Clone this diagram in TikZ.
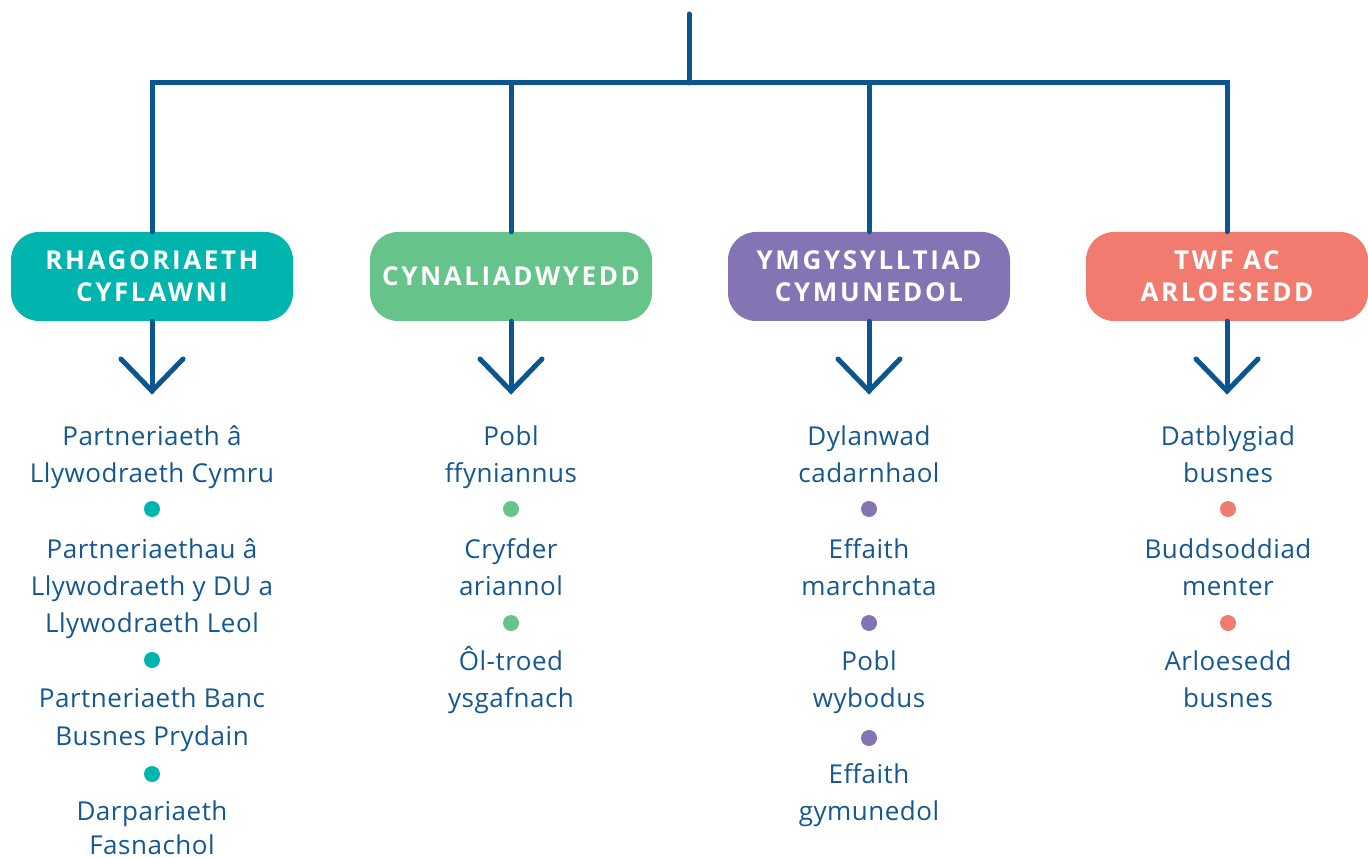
\documentclass[tikz,border=0pt]{standalone}
\usepackage{fontspec}
\setmainfont{Open Sans}
\usetikzlibrary{calc}
\definecolor{navy}{HTML}{0B5591}
\definecolor{txt}{HTML}{15588F}
\definecolor{cteal}{HTML}{00B5AD}
\definecolor{cgreen}{HTML}{66C38A}
\definecolor{cpurple}{HTML}{8574B4}
\definecolor{csalmon}{HTML}{F27B70}
\tikzset{
  conn/.style={draw=navy, line width=5pt, line cap=round, line join=miter},
  pillbox/.style={rounded corners=28pt, minimum width=282pt, minimum height=89pt, inner sep=0pt,
    text=white, font=\fontsize{26}{32}\selectfont\bfseries\addfontfeatures{LetterSpace=10}, align=center},
  ln/.style={text=txt, font=\fontsize{26}{30}\selectfont\addfontfeatures{LetterSpace=2}, anchor=base, inner sep=0pt},
  dot/.style={circle, minimum size=16pt, inner sep=0pt}
}
\newcommand\wline[4]{\node[ln] (#1) at (#2,#3) {#4};}
\newcommand\wdot[4]{\node[dot, fill=#4] (#1) at (#2,#3) {};}
\begin{document}
\begin{tikzpicture}[x=1pt,y=-1pt]
\useasboundingbox (0,0) rectangle (1368,858);
% boxes
\node[pillbox, fill=cteal]   (b1) at (152,276.5)  {RHAGORIAETH\\CYFLAWNI};
\node[pillbox, fill=cgreen]  (b2) at (511,276.5)  {CYNALIADWYEDD};
\node[pillbox, fill=cpurple] (b3) at (869,276.5)  {YMGYSYLLTIAD\\CYMUNEDOL};
\node[pillbox, fill=csalmon] (b4) at (1227,276.5) {TWF AC\\ARLOESEDD};
% tree
\coordinate (top) at (689,14);
\coordinate (hub) at (689,83);
\draw[conn] (top) -- (hub);
\draw[conn] (b1.north) -- (b1.north |- hub) -- (b4.north |- hub) -- (b4.north);
\draw[conn] (b2.north) -- (b2.north |- hub);
\draw[conn] (b3.north) -- (b3.north |- hub);
% arrows
\foreach \b/\x in {b1/152,b2/511,b3/869,b4/1227}{
  \coordinate (\b t) at (\x,391);
  \draw[conn] (\b.south) -- (\b t);
  \draw[conn] ($(\b t)+(-31,-32)$) -- (\b t) -- ($(\b t)+(31,-32)$);
}
% column 1
\wline{a1}{152}{445}{Partneriaeth â}
\wline{a2}{152}{482}{Llywodraeth Cymru}
\wdot{ad1}{152}{509}{cteal}
\wline{a3}{152}{558}{Partneriaethau â}
\wline{a4}{152}{595}{Llywodraeth y DU a}
\wline{a5}{152}{632}{Llywodraeth Leol}
\wdot{ad2}{152}{660}{cteal}
\wline{a6}{152}{707}{Partneriaeth Banc}
\wline{a7}{152}{745}{Busnes Prydain}
\wdot{ad3}{152}{774}{cteal}
\wline{a8}{152}{820}{Darpariaeth}
\wline{a9}{152}{854}{Fasnachol}
% column 2
\wline{c1}{511}{445}{Pobl}
\wline{c2}{511}{482}{ffyniannus}
\wdot{cd1}{511}{509}{cgreen}
\wline{c3}{511}{558}{Cryfder}
\wline{c4}{511}{595}{ariannol}
\wdot{cd2}{511}{623}{cgreen}
\wline{c5}{511}{670}{Ôl-troed}
\wline{c6}{511}{707}{ysgafnach}
% column 3
\wline{e1}{869}{445}{Dylanwad}
\wline{e2}{869}{482}{cadarnhaol}
\wdot{ed1}{869}{509}{cpurple}
\wline{e3}{869}{558}{Effaith}
\wline{e4}{869}{595}{marchnata}
\wdot{ed2}{869}{623}{cpurple}
\wline{e5}{869}{670}{Pobl}
\wline{e6}{869}{707}{wybodus}
\wdot{ed3}{869}{738}{cpurple}
\wline{e7}{869}{783}{Effaith}
\wline{e8}{869}{820}{gymunedol}
% column 4
\wline{g1}{1228}{445}{Datblygiad}
\wline{g2}{1228}{482}{busnes}
\wdot{gd1}{1228}{509}{csalmon}
\wline{g3}{1228}{558}{Buddsoddiad}
\wline{g4}{1228}{595}{menter}
\wdot{gd2}{1228}{623}{csalmon}
\wline{g5}{1228}{670}{Arloesedd}
\wline{g6}{1228}{707}{busnes}
\end{tikzpicture}
\end{document}
